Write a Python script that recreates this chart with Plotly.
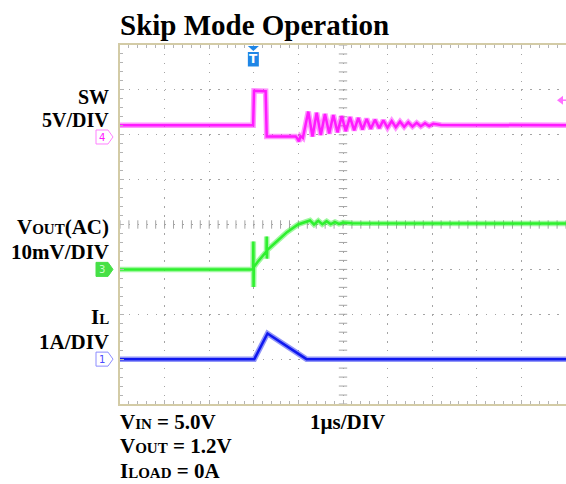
import plotly.graph_objects as go

# ---------------------------------------------------------------------------
# Scope capture: skip-mode switching event, 1 us/div, 10 x 8 divisions
# ---------------------------------------------------------------------------
W, H = 566, 484
ML, MR, MT, MB = 120, 0, 45, 80
PW, PH = W - ML - MR, H - MT - MB
N_XDIV, N_YDIV = 10, 8

# Channel 4 - SW node (volts), 5 V/div
sw_t = [0.0, 2.985, 3.005, 3.25, 3.265, 3.29, 3.94, 3.98, 4.013, 4.047, 4.10,
        4.222, 4.316, 4.410, 4.502, 4.596, 4.691, 4.783, 4.877, 4.971, 5.063,
        5.157, 5.251, 5.343, 5.437, 5.531, 5.623, 5.717, 5.812, 5.904, 5.998,
        6.092, 6.184, 6.278, 6.372, 6.464, 6.558, 6.652, 6.744, 6.839, 6.933,
        7.025, 7.2, 10.0]
sw_v = [1.3, 1.3, 5.15, 5.1, 5.1, 0.05, 0.05, -0.2, -0.5, 0.1, -0.1,
        2.83, 0.05, 2.70, 0.22, 2.57, 0.38, 2.45, 0.52, 2.33, 0.64,
        2.22, 0.74, 2.12, 0.83, 2.02, 0.91, 1.93, 0.98, 1.85, 1.04,
        1.78, 1.09, 1.71, 1.13, 1.64, 1.17, 1.58, 1.20, 1.52, 1.23,
        1.47, 1.35, 1.3]
SW_SCALE, SW_GND = 5.0, 5.95

# Channel 3 - VOUT, AC coupled (mV), 10 mV/div
vo_t = [0.0, 2.985, 2.99, 2.995, 3.0, 3.08, 3.285, 3.289, 3.293, 3.30, 3.513,
        3.744, 3.991, 4.260, 4.350, 4.446, 4.536, 4.634, 4.724, 4.821, 4.910,
        5.007, 5.2, 10.0]
vo_mv = [0.0, 0.0, 6.2, -3.9, 0.5, 1.6, 4.0, 7.3, 2.4, 4.3, 6.2,
         8.3, 10.0, 10.9, 10.0, 10.8, 10.05, 10.7, 10.1, 10.55, 10.15,
         10.45, 10.3, 10.2]
VO_SCALE, VO_GND = 10.0, 3.0

# Channel 1 - inductor current (A), 1 A/div
il_t = [0.0, 3.011, 3.307, 4.182, 10.0]
il_a = [0.0, 0.0, 0.57, 0.0, 0.0]
IL_SCALE, IL_GND = 1.0, 1.0

TRIG_T = 2.99          # trigger position (us)
TRIG_LEVEL_V = 4.1     # trigger level on channel 4 (V)

SW_COLOR = "#ff1aff"
VO_COLOR = "#2ef02e"
IL_COLOR = "#0f18f0"
GRID = "#a4a4a4"
FRAME = "#d3cba6"
SERIF = "Liberation Serif"


def px(x):
    return (x - ML) / PW


def py(y):
    return (H - MB - y) / PH


def div_to_pix_y(d):
    return H - MB - d / N_YDIV * PH


def t_to_pix_x(t):
    return ML + t / N_XDIV * PW


fig = go.Figure()

# centre crosshair sub-division ticks
fig.add_trace(go.Scatter(
    x=[N_XDIV / 2] * (N_YDIV * 5 + 1), y=[k / 5 for k in range(N_YDIV * 5 + 1)],
    mode="markers", hoverinfo="skip",
    marker=dict(symbol="line-ew", size=6, line=dict(width=1, color=GRID))))
fig.add_trace(go.Scatter(
    x=[k / 5 for k in range(N_XDIV * 5 + 1)], y=[N_YDIV / 2] * (N_XDIV * 5 + 1),
    mode="markers", hoverinfo="skip",
    marker=dict(symbol="line-ns", size=6, line=dict(width=1, color=GRID))))

channels = [
    (sw_t, sw_v, SW_SCALE, SW_GND, SW_COLOR),
    (vo_t, vo_mv, VO_SCALE, VO_GND, VO_COLOR),
    (il_t, il_a, IL_SCALE, IL_GND, IL_COLOR),
]
for t, vals, scale, gnd, color in channels:
    ydiv = [gnd + v / scale for v in vals]
    # soft halo for the noisy trace body
    fig.add_trace(go.Scatter(x=t, y=ydiv, mode="lines", opacity=0.45,
                             line=dict(color=color, width=5.5), hoverinfo="skip"))
    fig.add_trace(go.Scatter(x=t, y=ydiv, mode="lines",
                             line=dict(color=color, width=2.5), hoverinfo="skip"))

axis_common = dict(
    showgrid=True, gridcolor=GRID, gridwidth=1,
    showline=True, linecolor=FRAME, linewidth=1.5,
    ticks="inside", ticklen=4, tickcolor="#b4b4b4", tickwidth=1,
    showticklabels=False, zeroline=False, fixedrange=True,
    minor=dict(dtick=0.2, ticks="inside", ticklen=3, tickcolor="#b4b4b4", showgrid=False),
)
fig.update_layout(
    width=W, height=H,
    margin=dict(l=ML, r=MR, t=MT, b=MB),
    paper_bgcolor="white", plot_bgcolor="white", showlegend=False,
    xaxis=dict(range=[0, N_XDIV], dtick=1, mirror="ticks",
               griddash="1.5px,7.47px", **axis_common),
    yaxis=dict(range=[0, N_YDIV], dtick=1, mirror=False,
               griddash="1.5px,7.42px", **axis_common),
)

shapes = []
annotations = []


def text(s, x, y, size=21, xanchor="right", color="black", family=SERIF, weight="bold"):
    annotations.append(dict(text=s, x=px(x), y=py(y), xref="paper", yref="paper",
                            xanchor=xanchor, yanchor="middle", showarrow=False,
                            borderpad=0,
                            font=dict(family=family, size=size, color=color, weight=weight)))


def sub(s, size=15):
    return f'<span style="font-size:{size}px">{s}</span>'


text("Skip Mode Operation", 119, 25, size=29, xanchor="left")
text("SW", 110, 97, size=20)
text("5V/DIV", 110, 120, size=20)
text("V" + sub("OUT") + "(AC)", 110, 227)
text("10mV/DIV", 110, 252)
text("I" + sub("L"), 110, 317)
text("1A/DIV", 110, 342)
text("V" + sub("IN") + " = 5.0V", 119, 422, xanchor="left")
text("V" + sub("OUT") + " = 1.2V", 119, 446, xanchor="left")
text("I" + sub("LOAD") + " = 0A", 119, 471, xanchor="left")
text("1\u00b5s/DIV", 309, 422, xanchor="left")


def poly(points):
    return "M " + " L ".join(f"{px(x):.5f},{py(y):.5f}" for x, y in points) + " Z"


# channel ground markers on the left edge
markers = [("4", SW_GND, "white", "#ff80ff", SW_COLOR),
           ("3", VO_GND, "#46e046", "#46e046", "#c8ffc8"),
           ("1", IL_GND, "white", "#8c8cff", "#4a4aff")]
for label, gnd, fill, edge, tcol in markers:
    yc = div_to_pix_y(gnd)
    pts = [(96, yc - 7), (108, yc - 7), (113, yc), (108, yc + 7), (96, yc + 7)]
    shapes.append(dict(type="path", path=poly(pts), xref="paper", yref="paper",
                       fillcolor=fill, line=dict(color=edge, width=1)))
    text(label, 102, yc + 0.5, size=10, xanchor="center", color=tcol,
         family="DejaVu Sans", weight="normal")

# trigger position marker on the top edge
xt = t_to_pix_x(TRIG_T)
shapes.append(dict(type="path", xref="paper", yref="paper",
                   path=poly([(xt - 5.5, 46), (xt + 5.5, 46), (xt, 51)]),
                   fillcolor="#1f86e6", line=dict(width=0)))
shapes.append(dict(type="rect", xref="paper", yref="paper",
                   x0=px(xt - 5.5), x1=px(xt + 5.5), y0=py(52), y1=py(66.5),
                   fillcolor="#1f86e6", line=dict(width=0)))
text("T", xt, 59.5, size=12, xanchor="center", color="white", family="DejaVu Sans")

# trigger level marker on the right edge
yl = div_to_pix_y(SW_GND + TRIG_LEVEL_V / SW_SCALE)
shapes.append(dict(type="path", xref="paper", yref="paper",
                   path=poly([(557, yl), (563, yl - 4.5), (563, yl + 4.5)]),
                   fillcolor="#ff70ff", line=dict(width=0)))
shapes.append(dict(type="line", xref="paper", yref="paper",
                   x0=px(562), x1=px(566), y0=py(yl), y1=py(yl),
                   line=dict(color="#ff70ff", width=1.5)))

fig.update_layout(shapes=shapes, annotations=annotations)
fig.write_html("out.html")
